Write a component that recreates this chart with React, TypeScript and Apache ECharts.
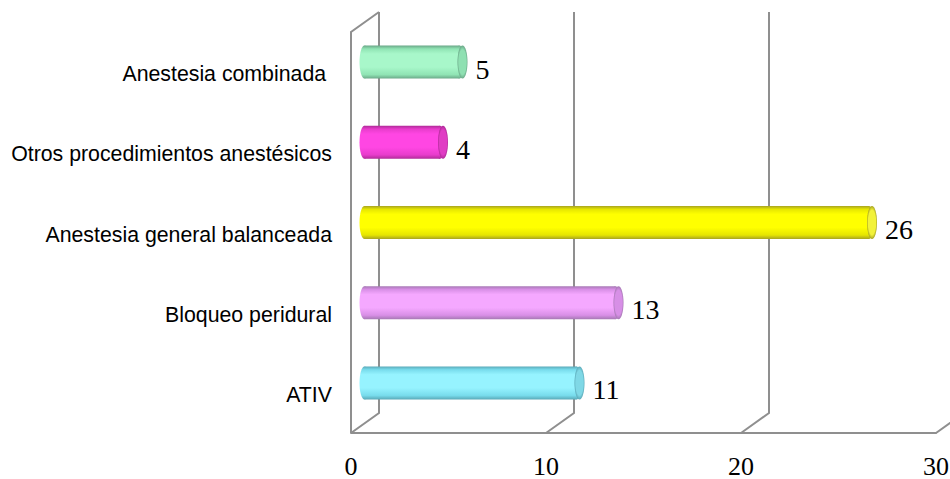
import React, { useEffect, useRef } from "react";
import * as echarts from "echarts";

const categories = [
  "ATIV",
  "Bloqueo peridural",
  "Anestesia general balanceada",
  "Otros procedimientos anestésicos",
  "Anestesia combinada ",
];
const counts = [11, 13, 26, 4, 5];
const wallTicks = [0, 10, 20, 30];

// Per-bar shades: rim, lower body, body highlight, end cap centre
const barShades = [
  { edge: "#5aa9b8", low: "#78dcec", mid: "#96f3ff", cap: "#7fd8e6" },
  { edge: "#a678b4", low: "#d88fe6", mid: "#f5a8ff", cap: "#d78fe6" },
  { edge: "#a8a420", low: "#e6e600", mid: "#ffff00", cap: "#f2f23a" },
  { edge: "#b02a98", low: "#e83ccc", mid: "#ff46e3", cap: "#e03cc4" },
  { edge: "#6aa888", low: "#90e4b4", mid: "#a8f7ca", cap: "#8fe0b2" },
];

const WALL_DX = 28;
const WALL_DY = 20;
const WALL_COLOR = "#8f8f8f";

function renderWall(params: any, api: any) {
  const tick = api.value(0);
  const cs = params.coordSys;
  const top = cs.y;
  const bottom = cs.y + cs.height;
  const x = api.coord([tick, 0])[0];
  const children: any[] = [];
  const lineStyle = { stroke: WALL_COLOR, lineWidth: 2, fill: "none" };
  children.push({
    type: "polyline",
    shape: {
      points: [
        [x, bottom],
        [x + WALL_DX, bottom - WALL_DY],
        [x + WALL_DX, top - WALL_DY],
      ],
    },
    style: lineStyle,
  });
  if (tick === 0) {
    children.push({
      type: "polyline",
      shape: {
        points: [
          [x, bottom],
          [x, top],
          [x + WALL_DX, top - WALL_DY],
        ],
      },
      style: lineStyle,
    });
  }
  return { type: "group", children };
}

function renderCylinder(params: any, api: any) {
  const value = api.value(0);
  const idx = api.value(1);
  const shade = barShades[params.dataIndex];
  const [x0, cy] = api.coord([0, idx]);
  const [x1] = api.coord([value, idx]);
  const yc = cy - 10;
  const h = 33;
  const rx = 5;
  const left = x0 + 8.5;
  const right = x1 + 19;
  const bodyFill = () =>
    new echarts.graphic.LinearGradient(0, 0, 0, 1, [
      { offset: 0, color: shade.edge },
      { offset: 0.1, color: shade.low },
      { offset: 0.25, color: shade.mid },
      { offset: 0.65, color: shade.mid },
      { offset: 0.88, color: shade.low },
      { offset: 1, color: shade.edge },
    ]);
  const capFill = new echarts.graphic.RadialGradient(0.5, 0.5, 0.5, [
    { offset: 0, color: shade.cap },
    { offset: 0.75, color: shade.cap },
    { offset: 1, color: shade.edge },
  ]);
  return {
    type: "group",
    children: [
      {
        type: "ellipse",
        shape: { cx: left + rx, cy: yc, rx, ry: h / 2 },
        style: { fill: bodyFill() },
      },
      {
        type: "ellipse",
        shape: { cx: right - rx - 3, cy: yc, rx, ry: h / 2 },
        style: { fill: bodyFill() },
      },
      {
        type: "rect",
        shape: { x: left + rx, y: yc - h / 2, width: right - left - 2 * rx - 3, height: h },
        style: { fill: bodyFill() },
      },
      {
        type: "ellipse",
        shape: { cx: right - rx, cy: yc, rx, ry: h / 2 },
        style: { fill: capFill },
      },
      {
        type: "text",
        style: {
          x: right + 8,
          y: yc + 7,
          text: String(value),
          fill: "#000",
          font: "28px 'Liberation Serif'",
          align: "left",
          verticalAlign: "middle",
        },
      },
    ],
  };
}

export default function App() {
  const ref = useRef<HTMLDivElement>(null);
  useEffect(() => {
    const chart = echarts.init(ref.current!, undefined, { renderer: "svg" });
    chart.setOption({
      animation: false,
      backgroundColor: "#fff",
      grid: { left: 351, right: 14, top: 32, height: 401, outerBoundsMode: "none" },
      xAxis: {
        type: "value",
        min: 0,
        max: 30,
        interval: 10,
        splitLine: { show: false },
        axisTick: { show: false },
        axisLine: { show: true, onZero: false, lineStyle: { color: WALL_COLOR, width: 2 } },
        axisLabel: {
          color: "#000",
          fontFamily: "Liberation Serif",
          fontSize: 26,
          lineHeight: 20,
          margin: 23,
          hideOverlap: false,
          showMaxLabel: true,
        },
      },
      yAxis: {
        type: "category",
        data: categories,
        axisLine: { show: false },
        axisTick: { show: false },
        axisLabel: {
          color: "#000",
          fontFamily: "Liberation Sans",
          fontSize: 21.3,
          lineHeight: 4,
          verticalAlign: "top",
          margin: 19,
          interval: 0,
        },
      },
      series: [
        {
          type: "custom",
          z: 1,
          silent: true,
          clip: false,
          renderItem: renderWall,
          encode: { x: 0 },
          data: wallTicks.map((t) => [t, 0]),
        },
        {
          type: "custom",
          z: 2,
          clip: false,
          renderItem: renderCylinder,
          encode: { x: 0, y: 1 },
          data: counts.map((v, i) => [v, i]),
        },
      ],
    });
    return () => chart.dispose();
  }, []);
  return (
    <div
      ref={ref}
      style={{ position: "absolute", left: 0, top: 0, width: 950, height: 479 }}
    />
  );
}
